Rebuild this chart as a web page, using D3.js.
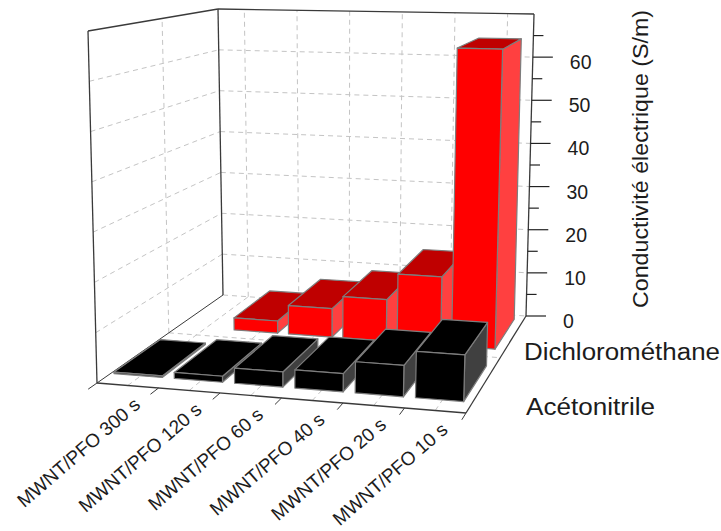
<!DOCTYPE html>
<html><head><meta charset="utf-8">
<script src="https://cdn.jsdelivr.net/npm/d3@7/dist/d3.min.js"></script>
<style>html,body{margin:0;padding:0;background:#fff}svg{display:block}text{font-family:"Liberation Sans",Arial,sans-serif;fill:#1c1c1c}</style>
</head><body><svg id="c" width="721" height="531"></svg>
<script>
const categories = ["MWNT/PFO 300 s","MWNT/PFO 120 s","MWNT/PFO 60 s","MWNT/PFO 40 s","MWNT/PFO 20 s","MWNT/PFO 10 s"];
const seriesNames = ["Acétonitrile","Dichlorométhane"];
const acetonitrile = [0.3,1.2,3.0,3.6,6.1,9.0];
const dichloromethane = [null,2.7,6.3,9.1,14.8,64.5];
const zTicks = [0,10,20,30,40,50,60];
const zMinor = [5,15,25,35,45,55,65];
const zMax = 70;

// box corners in pixels: [u][v][w]
const C = {
  "000":[97,383],"100":[466,413],"010":[223,295],"110":[526,316],
  "001":[88,31],"101":[476,42],"011":[218,9],"111":[534,14]
};
const lerp=(a,b,t)=>a+(b-a)*t;
function P(u,v,w){
  return [0,1].map(i=>{
    const a=lerp(C["000"][i],C["100"][i],u), b=lerp(C["010"][i],C["110"][i],u);
    const c=lerp(C["001"][i],C["101"][i],u), d=lerp(C["011"][i],C["111"][i],u);
    return lerp(lerp(a,b,v),lerp(c,d,v),w);
  });
}
const uScale=d3.scaleBand().domain(categories).range([0,1]).paddingInner(0.2).paddingOuter(0.1);
const wScale=d3.scaleLinear().domain([0,zMax]).range([0,1]);
const vBand={[seriesNames[0]]:[0.11,0.48],[seriesNames[1]]:[0.65,0.96]};
const uShift={[seriesNames[0]]:-0.008,[seriesNames[1]]:-0.014};
const seriesVal={[seriesNames[0]]:acetonitrile,[seriesNames[1]]:dichloromethane};
const colours={[seriesNames[0]]:{front:"#000000",top:"#000000",side:"#404040"},[seriesNames[1]]:{front:"#ff0000",top:"#bf0000",side:"#ff4040"}};
const svg=d3.select("#c");
const line=d3.line();
const seg=(a,b,o)=>{const s=svg.append("path").attr("d",line([a,b])).attr("fill","none").attr("stroke",o.c).attr("stroke-width",o.w);if(o.d)s.attr("stroke-dasharray",o.d);return s;};
const grid={c:"#c4c4c4",w:1,d:"5 4"}, frame={c:"#3a3a3a",w:1.3};
const uCentre=c=>uScale(c)+uScale.bandwidth()/2;
const floorV=0.57;

zTicks.filter(z=>z>0).forEach(z=>{
  const w=wScale(z);
  seg(P(0,1,w),P(1,1,w),grid);
  seg(P(0,0,w),P(0,1,w),grid);
});
categories.forEach(c=>{
  const u=uCentre(c);
  seg(P(u,1,0),P(u,1,1),grid);
  seg(P(u,0,0),P(u,1,0),grid);
});
seg(P(0,floorV,0),P(0,floorV,1),grid);
seg(P(0,floorV,0),P(1,floorV,0),grid);
seg(P(0,1,0),P(1,1,0),grid);

seg(P(0,0,0),P(0,0,1),frame);
seg(P(0,1,0),P(0,1,1),frame);
seg(P(1,1,0),P(1,1,1),frame);
seg(P(0,0,1),P(0,1,1),frame);
seg(P(0,1,1),P(1,1,1),frame);
seg(P(0,0,0),P(0,1,0),{c:"#3a3a3a",w:1});
seg(P(0,0,0),P(1,0,0),frame);
seg(P(1,0,0),P(1,1,0),frame);

function bars(name){
  const [v0,v1]=vBand[name], col=colours[name];
  categories.forEach((c,i)=>{
    const val=seriesVal[name][i];
    if(val==null)return;
    const u0=uScale(c)+uShift[name],u1=u0+uScale.bandwidth(),w=wScale(val);
    const face=(pts,fill)=>svg.append("path").attr("d",line(pts)+"Z").attr("fill",fill).attr("stroke","#7d7d7d").attr("stroke-width",1.2).attr("stroke-linejoin","round");
    face([P(u1,v0,0),P(u1,v1,0),P(u1,v1,w),P(u1,v0,w)],col.side);
    face([P(u0,v0,w),P(u1,v0,w),P(u1,v1,w),P(u0,v1,w)],col.top);
    face([P(u0,v0,0),P(u1,v0,0),P(u1,v0,w),P(u0,v0,w)],col.front);
  });
}
bars(seriesNames[1]);
bars(seriesNames[0]);

d3.range(categories.length+1).forEach(i=>{
  const u=i/categories.length;
  seg(P(u,0,0),P(u,-0.07,0),{c:"#3a3a3a",w:1});
});
categories.forEach(c=>{
  const p=P(uCentre(c),0,0);
  svg.append("text").attr("transform",`translate(${p[0]+5},${p[1]+11}) rotate(-41)`)
    .attr("text-anchor","end").attr("dy","0.7em").attr("font-size",19).text(c);
});

zTicks.forEach(z=>{
  const p=P(1,1,wScale(z));
  seg(p,[p[0]+20,p[1]],{c:"#222",w:1.2});
  svg.append("text").attr("x",p[0]+37).attr("y",p[1]+12).attr("font-size",19.5).text(z);
});
zMinor.forEach(z=>{
  const p=P(1,1,wScale(z));
  seg(p,[p[0]+10,p[1]],{c:"#222",w:1.2});
});
svg.append("text").attr("transform","translate(648,159) rotate(-90)").attr("text-anchor","middle")
  .attr("font-size",21.5).attr("textLength",298).attr("lengthAdjust","spacingAndGlyphs").text("Conductivité électrique (S/m)");
svg.append("text").attr("x",524).attr("y",360).attr("font-size",23).attr("textLength",196).attr("lengthAdjust","spacingAndGlyphs").text(seriesNames[1]);
svg.append("text").attr("x",526).attr("y",415).attr("font-size",23).attr("textLength",129).attr("lengthAdjust","spacingAndGlyphs").text(seriesNames[0]);
</script></body></html>
